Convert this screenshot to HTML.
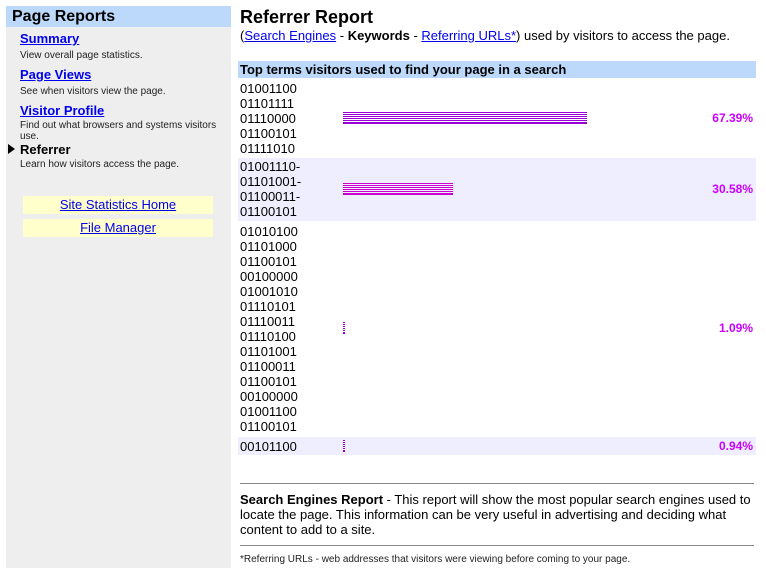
<!DOCTYPE html>
<html><head><style>
body{margin:0;width:766px;height:578px;background:#fff;font-family:"Liberation Sans",sans-serif;color:#000;position:relative;overflow:hidden}
.a{position:absolute}
a{color:#00e;text-decoration:underline}
#side{left:6px;top:6px;width:225px;height:562px;background:#eee}
#sh{left:6px;top:6px;width:225px;height:21px;background:#bcd9fb;font-size:16px;font-weight:bold;line-height:21px;text-indent:6px}
.nl{left:20px;font-size:13px;font-weight:bold}
.nd{left:20px;font-size:10px;color:#222;width:210px;line-height:11px}
.btn{left:23px;width:190px;height:18px;background:#ffffcc;text-align:center;font-size:13px;line-height:18px}
.row{left:238px;width:518px}
.t{left:240px;font-size:13px;line-height:15px}
.bar{left:343px;height:12px}
.pc{right:13px;font-size:12px;font-weight:bold;color:#cc00ff}
hr{position:absolute;left:240px;width:514px;border:0;border-top:1px solid #888;margin:0}
svg{display:block}
</style></head><body>
<div class="a" id="side"></div>
<div class="a" id="sh">Page Reports</div>
<a class="a nl" style="top:31px" href="#">Summary</a>
<div class="a nd" style="top:50px">View overall page statistics.</div>
<a class="a nl" style="top:67px" href="#">Page Views</a>
<div class="a nd" style="top:86px">See when visitors view the page.</div>
<a class="a nl" style="top:103px" href="#">Visitor Profile</a>
<div class="a nd" style="top:120px">Find out what browsers and systems visitors use.</div>
<div class="a" style="left:8px;top:144px;width:0;height:0;border-left:7px solid #000;border-top:5px solid transparent;border-bottom:5px solid transparent"></div>
<div class="a nl" style="top:142px;color:#000">Referrer</div>
<div class="a nd" style="top:159px">Learn how visitors access the page.</div>
<a class="a btn" style="top:196px" href="#">Site Statistics Home</a>
<a class="a btn" style="top:219px" href="#">File Manager</a>

<div class="a" style="left:240px;top:7px;font-size:18px;font-weight:bold">Referrer Report</div>
<div class="a" style="left:240px;top:28px;font-size:13px">(<a href="#">Search Engines</a> - <b>Keywords</b> - <a href="#">Referring URLs*</a>) used by visitors to access the page.</div>

<div class="a row" style="top:61px;height:17px;background:#bcd9fb;font-size:13px;font-weight:bold;line-height:17px;text-indent:2px">Top terms visitors used to find your page in a search</div>
<div class="a row" style="top:158px;height:63px;background:#eeeefe"></div>
<div class="a row" style="top:437px;height:18px;background:#eeeefe"></div>

<div class="a t" style="top:81px">01001100<br>01101111<br>01110000<br>01100101<br>01111010</div>
<svg class="a" style="left:343px;top:112px" width="244" height="12"><g fill="#9a00d6"><rect y="0" width="244" height="1"/><rect y="2" width="244" height="1"/><rect y="4" width="244" height="1"/><rect y="6" width="244" height="1"/><rect y="8" width="244" height="1"/><rect y="10" width="244" height="1"/><rect y="11" width="244" height="1"/></g></svg>
<div class="a pc" style="top:111px">67.39%</div>

<div class="a t" style="top:159px">01001110-<br>01101001-<br>01100011-<br>01100101</div>
<svg class="a" style="left:343px;top:183px" width="110" height="12"><g fill="#cc00cc"><rect y="0" width="110" height="1"/><rect y="2" width="110" height="1"/><rect y="4" width="110" height="1"/><rect y="6" width="110" height="1"/><rect y="8" width="110" height="1"/><rect y="10" width="110" height="1"/><rect y="11" width="110" height="1"/></g></svg>
<div class="a pc" style="top:182px">30.58%</div>

<div class="a t" style="top:224px">01010100<br>01101000<br>01100101<br>00100000<br>01001010<br>01110101<br>01110011<br>01110100<br>01101001<br>01100011<br>01100101<br>00100000<br>01001100<br>01100101</div>
<svg class="a" style="left:343px;top:322px" width="2" height="12"><g fill="#9a00d6"><rect y="0" width="2" height="1"/><rect y="2" width="2" height="1"/><rect y="4" width="2" height="1"/><rect y="6" width="2" height="1"/><rect y="8" width="2" height="1"/><rect y="10" width="2" height="2"/></g></svg>
<div class="a pc" style="top:321px">1.09%</div>

<div class="a t" style="top:439px">00101100</div>
<svg class="a" style="left:343px;top:440px" width="2" height="12"><g fill="#9a00d6"><rect y="0" width="2" height="1"/><rect y="2" width="2" height="1"/><rect y="4" width="2" height="1"/><rect y="6" width="2" height="1"/><rect y="8" width="2" height="1"/><rect y="10" width="2" height="2"/></g></svg>
<div class="a pc" style="top:439px">0.94%</div>

<hr style="top:483px">
<div class="a" style="left:240px;top:492px;width:516px;font-size:13px;line-height:15px"><b>Search Engines Report</b> - This report will show the most popular search engines used to locate the page. This information can be very useful in advertising and deciding what content to add to a site.</div>
<hr style="top:545px">
<div class="a" style="left:240px;top:554px;font-size:10px;color:#222">*Referring URLs - web addresses that visitors were viewing before coming to your page.</div>
</body></html>
